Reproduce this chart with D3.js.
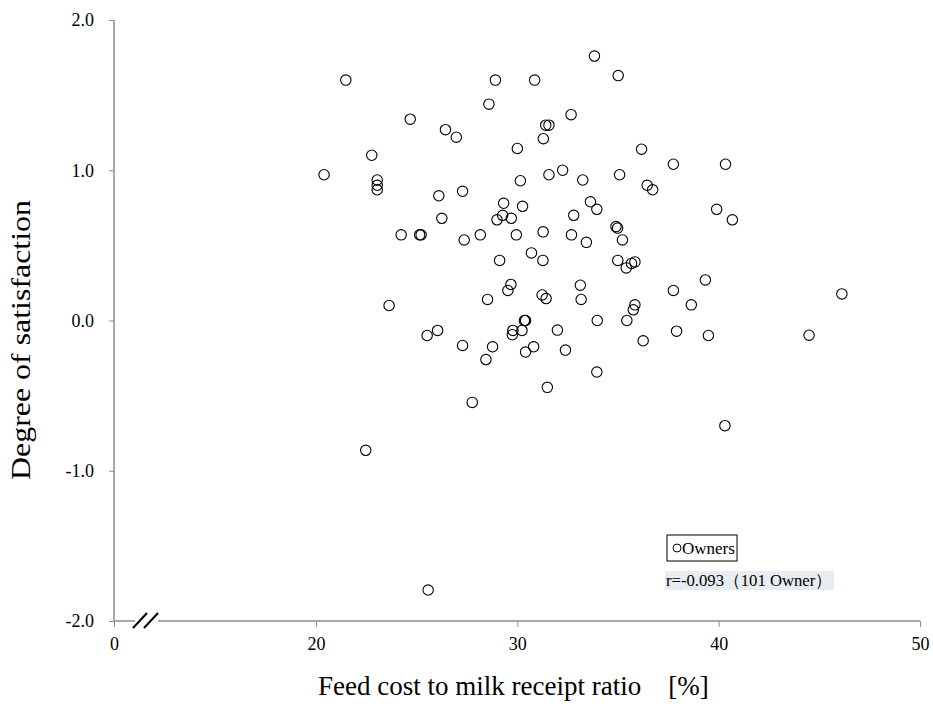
<!DOCTYPE html>
<html><head><meta charset="utf-8">
<script src="https://cdn.jsdelivr.net/npm/d3@7"></script>
<style>body{margin:0;background:#fff}svg{display:block}text{font-family:"Liberation Serif","Times New Roman",serif}</style>
</head><body><div id="chart"></div>
<script>
const feedCostRatio = [21.48,28.91,30.86,33.83,35.01,28.59,24.68,26.43,26.97,31.41,31.57,32.67,31.29,30.0,36.17,22.77,20.4,23.04,23.04,23.04,26.1,27.28,30.15,31.57,32.25,33.25,35.08,36.45,29.32,30.26,32.8,33.63,33.95,26.25,29.27,28.99,29.7,
24.23,25.15,25.22,27.36,28.16,29.95,31.28,32.69,33.43,34.9,34.98,35.22,29.12,30.7,31.27,34.99,35.41,35.67,35.84,23.63,28.52,29.68,29.53,31.23,31.43,33.13,33.17,35.84,35.76,33.97,35.44,36.25,30.35,30.41,26.04,25.52,27.28,28.77,28.44,29.78,30.23,29.75,30.81,30.41,31.99,32.39,33.95,31.49,27.76,
37.75,40.34,36.72,39.9,40.68,39.34,37.75,38.64,46.12,37.91,39.49,44.49,40.31,22.47,25.57];
const satisfaction = [1.60,1.60,1.60,1.76,1.63,1.44,1.34,1.27,1.22,1.30,1.30,1.37,1.21,1.145,1.14,1.10,0.97,0.935,0.90,0.87,0.83,0.86,0.93,0.97,1.00,0.935,0.97,0.90,0.78,0.76,0.70,0.79,0.74,0.68,0.70,0.67,0.68,
0.57,0.57,0.57,0.536,0.57,0.57,0.59,0.57,0.52,0.625,0.615,0.536,0.40,0.45,0.40,0.40,0.35,0.38,0.39,0.10,0.14,0.24,0.20,0.17,0.146,0.235,0.14,0.104,0.071,0.00,0.00,-0.135,0.00,0.00,-0.066,-0.10,-0.166,-0.175,-0.26,-0.066,-0.066,-0.095,-0.175,-0.21,-0.064,-0.197,-0.343,-0.445,-0.545,
1.04,1.04,0.87,0.74,0.67,0.27,0.20,0.104,0.177,-0.071,-0.10,-0.098,-0.70,-0.864,-1.794];
const xTicks = [0,20,30,40,50];
const yTicks = [-2,-1,0,1,2];
const seriesName = "Owners";
const statText = "r=-0.093（101 Owner）";
const xTitle = "Feed cost to milk receipt ratio　[%]";
const yTitle = "Degree of satisfaction";

const W=933,H=709;
const svg=d3.select("#chart").append("svg").attr("width",W).attr("height",H);
const x=d3.scaleLinear().domain([0,20,50]).range([114,316,920]);
const y=d3.scaleLinear().domain([-2,2]).range([621,20]);
const axisCol="#8c8c8c";

// y axis
const ya=svg.append("g").attr("transform","translate(114,0)")
  .call(d3.axisLeft(y).tickValues(yTicks).tickFormat(d=>d.toFixed(1)).tickSize(5).tickPadding(15));
ya.select(".domain").attr("stroke",axisCol).attr("stroke-width",1.5).attr("d","M0,20V621");
ya.selectAll(".tick line").attr("stroke",axisCol);
ya.selectAll(".tick text").attr("font-size",18).attr("fill","#000").attr("font-family","Liberation Serif");

// x axis
const xa=svg.append("g").attr("transform","translate(0,621)")
  .call(d3.axisBottom(x).tickValues(xTicks).tickFormat(d=>String(d)).tickSize(6).tickPadding(10));
xa.select(".domain").attr("stroke",axisCol).attr("stroke-width",1.5).attr("d","M114,0H135M158,0H920");
xa.selectAll(".tick line").attr("stroke",axisCol);
xa.selectAll(".tick text").attr("font-size",18).attr("fill","#000").attr("font-family","Liberation Serif");

// break marks
svg.append("line").attr("x1",133).attr("y1",628).attr("x2",147).attr("y2",613).attr("stroke","#000").attr("stroke-width",2);
svg.append("line").attr("x1",144).attr("y1",628).attr("x2",158).attr("y2",613).attr("stroke","#000").attr("stroke-width",2);

// points
svg.append("g").selectAll("circle").data(feedCostRatio.map((v,i)=>[v,satisfaction[i]]))
  .join("circle").attr("cx",d=>x(d[0])).attr("cy",d=>y(d[1])).attr("r",5.2)
  .attr("fill","none").attr("stroke","#000").attr("stroke-width",1.1);

// titles
svg.append("text").attr("x",318).attr("y",695).attr("font-size",27).text(xTitle);
svg.append("text").attr("transform","translate(30,340) rotate(-90)").attr("text-anchor","middle")
  .attr("font-size",27).attr("textLength",280).attr("lengthAdjust","spacingAndGlyphs").text(yTitle);

// legend
svg.append("rect").attr("x",667).attr("y",535).attr("width",70).attr("height",26).attr("fill","#fff").attr("stroke","#000").attr("stroke-width",1);
svg.append("circle").attr("cx",677).attr("cy",548).attr("r",4).attr("fill","none").attr("stroke","#000");
svg.append("text").attr("x",682).attr("y",554).attr("font-size",17).text(seriesName);
svg.append("rect").attr("x",665).attr("y",571).attr("width",169).attr("height",19).attr("fill","#e8ecf3");
svg.append("text").attr("x",666).attr("y",586).attr("font-size",17).attr("textLength",166).attr("lengthAdjust","spacingAndGlyphs").text(statText);
</script></body></html>
